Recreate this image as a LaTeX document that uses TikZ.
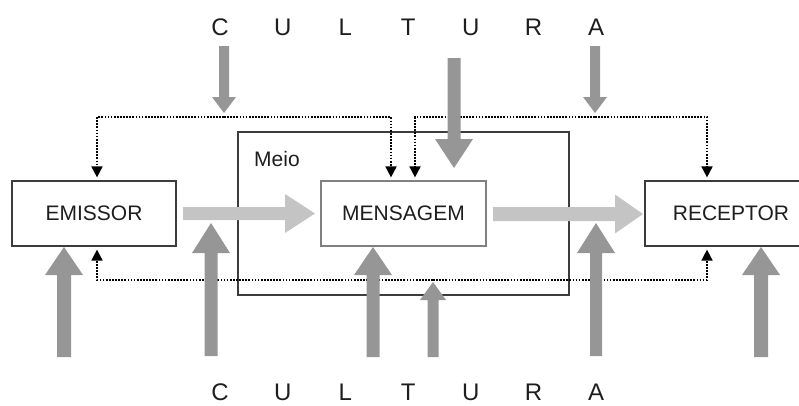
\documentclass[tikz,border=0pt]{standalone}
\usepackage{fontspec}
\setmainfont{Liberation Sans}
\usetikzlibrary{arrows.meta}
\definecolor{culgray}{RGB}{150,150,150}
\definecolor{flowgray}{RGB}{196,196,196}
\definecolor{boxline}{RGB}{60,60,60}
\definecolor{inkblack}{RGB}{30,30,30}

% vertical block arrow: {x}{half shaft}{tail y}{head base y}{half head}{tip y}
\newcommand\vblockarrow[6]{%
  \fill[culgray] ({#1-#2},#3) -- ({#1-#2},#4) -- ({#1-#5},#4) -- (#1,#6)
    -- ({#1+#5},#4) -- ({#1+#2},#4) -- ({#1+#2},#3) -- cycle;}
% horizontal block arrow: {y}{half shaft}{tail x}{head base x}{half head}{tip x}
\newcommand\hblockarrow[6]{%
  \fill[flowgray] (#3,{#1-#2}) -- (#4,{#1-#2}) -- (#4,{#1-#5}) -- (#6,#1)
    -- (#4,{#1+#5}) -- (#4,{#1+#2}) -- (#3,{#1+#2}) -- cycle;}

\begin{document}
\begin{tikzpicture}[x=1pt,y=-1pt,
  agent/.style={draw=boxline,line width=1.2pt,fill=white,minimum width=164pt,
    minimum height=65pt,inner sep=0pt,font=\fontsize{21}{25}\selectfont,text=inkblack},
  letter/.style={font=\fontsize{24}{28}\selectfont,text=inkblack,inner sep=0pt},
  dotlink/.style={line width=1.7pt,dash pattern=on 1.7pt off 1.4pt,
    -{Triangle[length=11pt,width=11pt]},shorten >=3pt}]
\useasboundingbox (0,0) rectangle (799,405);
\clip (0,0) rectangle (799,405);

% the medium
\draw[boxline,line width=1.2pt] (238,132) rectangle (569,295);
\node[anchor=west,font=\fontsize{21}{25}\selectfont,text=inkblack,inner sep=0pt] (meio) at (254,159) {Meio};

% the three agents
\node[agent] (emissor) at (94,213.5) {EMISSOR};
\node[agent,draw=gray,minimum width=165pt] (mensagem) at (403.5,213.5) {MENSAGEM};
\node[agent,text width=164pt,align=center] (receptor) at (727,213.5) {\hspace*{8pt}RECEPTOR};

% junction points of the dotted feedback lines
\coordinate (jc) at (224,117);
\coordinate (ja) at (595,117);
\coordinate (jb) at (433,280);

\draw[dotlink] (jc) -| ([xshift=3pt]emissor.north);
\draw[dotlink] (jc) -| ([xshift=-12.5pt]mensagem.north);
\draw[dotlink] (ja) -| ([xshift=11.5pt]mensagem.north);
\draw[dotlink] (ja) -| ([xshift=-20pt]receptor.north);
\draw[dotlink] (jb) -| ([xshift=3pt]emissor.south);
\draw[dotlink] (jb) -| ([xshift=-20pt]receptor.south);

% message flow
\hblockarrow{213.5}{6.5}{183}{285}{19.5}{315}
\hblockarrow{214}{7}{493}{615}{19.5}{643}

% culture pressing from above
\vblockarrow{224}{5}{46}{97}{12}{113}
\vblockarrow{454}{6.5}{58}{139}{19}{168}
\vblockarrow{595}{5}{46}{97}{12}{113}

% culture pressing from below
\vblockarrow{64}{7}{357}{275}{19}{247}
\vblockarrow{211}{6.5}{356}{253}{19}{223}
\vblockarrow{373}{6.5}{357}{275}{19}{247}
\vblockarrow{433}{5.5}{357}{300}{13}{282}
\vblockarrow{596}{6}{356}{253}{19}{223}
\vblockarrow{761}{7}{357}{275}{19}{247}

% CULTURA, above and below
\foreach \ch [count=\i from 0] in {C,U,L,T,U,R,A}{
  \node[letter] (top\i) at ({220+62.7*\i},27) {\ch};
  \node[letter] (bot\i) at ({220+62.7*\i},392.5) {\ch};
}
\end{tikzpicture}
\end{document}
